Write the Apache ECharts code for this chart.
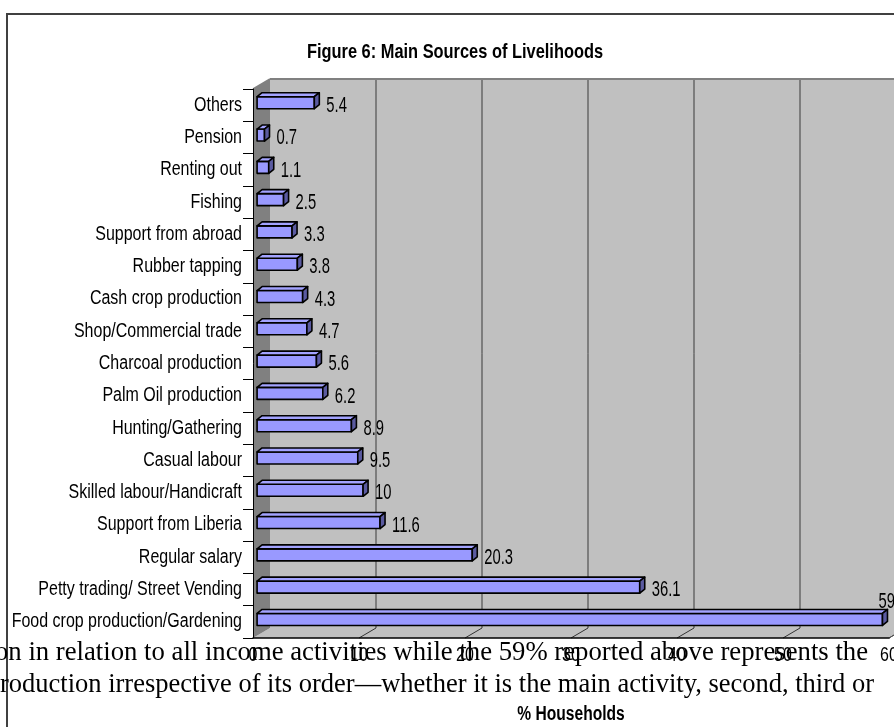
<!DOCTYPE html>
<html>
<head>
<meta charset="utf-8">
<script src="https://cdn.jsdelivr.net/npm/echarts@6/dist/echarts.min.js"></script>
<style>
  html, body { margin: 0; padding: 0; background: #fff; }
  #chart { width: 894px; height: 727px; }
</style>
</head>
<body>
<div id="chart"></div>
<script>
// Livelihood sources, listed bottom-to-top as the category axis stacks them.
const categories = [
  'Food crop production/Gardening',
  'Petty trading/ Street Vending',
  'Regular salary',
  'Support from Liberia',
  'Skilled labour/Handicraft',
  'Casual labour',
  'Hunting/Gathering',
  'Palm Oil production',
  'Charcoal production',
  'Shop/Commercial trade',
  'Cash crop production',
  'Rubber tapping',
  'Support from abroad',
  'Fishing',
  'Renting out',
  'Pension',
  'Others'
];
// % of households reporting each source
const households = [59, 36.1, 20.3, 11.6, 10, 9.5, 8.9, 6.2, 5.6, 4.7, 4.3, 3.8, 3.3, 2.5, 1.1, 0.7, 5.4];
// value axis ticks
const xTicks = [0, 10, 20, 30, 40, 50, 60];

const titleText = 'Figure 6: Main Sources of Livelihoods';
const axisTitle = '% Households';
// running report text printed across the lower part of the figure
const pageTextLines = [
  'on in relation to all income activities while the 59% reported above represents the',
  'roduction irrespective of its order\u2014whether it is the main activity, second, third or'
];

const SANS = '"Liberation Sans", Arial, sans-serif';
const SERIF = '"Liberation Serif", "Times New Roman", serif';
// horizontal squeeze that turns the sans face into a narrow one
const NARROW_X = 0.8;

// oblique projection of the plot depth (front plane -> back wall)
const DEPTH_X = 17, DEPTH_Y = -10;
// bars sit a quarter of the way into the depth, with their own small thickness
const BAR_POS = 0.24;
const BAR_DX = 5, BAR_DY = -4, BAR_H = 12;

const chart = echarts.init(document.getElementById('chart'), null, { renderer: 'canvas' });

function narrowText(x, y, text, font, align, vAlign, scaleY) {
  return {
    type: 'text', x: x, y: y, scaleX: NARROW_X, scaleY: scaleY || 1,
    style: { text: text, x: 0, y: 0, fill: '#000', font: font,
      align: align, verticalAlign: vAlign, textAlign: align, textVerticalAlign: vAlign }
  };
}

// walls, floor, gridlines and the axis texts of the 3-D frame
function renderFrame(params, api) {
  const cs = params.coordSys;
  const L = cs.x, T = cs.y, R = cs.x + cs.width, B = cs.y + cs.height;
  const dx = DEPTH_X, dy = DEPTH_Y;
  const children = [];
  // back wall
  children.push({ type: 'rect', shape: { x: L + dx, y: T + dy, width: R - L, height: B - T },
    style: { fill: '#C0C0C0' } });
  // floor
  children.push({ type: 'polygon', shape: { points: [[L, B], [R, B], [R + dx, B + dy], [L + dx, B + dy]] },
    style: { fill: '#C0C0C0' } });
  // side wall
  children.push({ type: 'polygon', shape: { points: [[L, T], [L + dx, T + dy], [L + dx, B + dy], [L, B]] },
    style: { fill: '#808080' } });
  // gridlines on the back wall
  xTicks.slice(1).forEach(function (v) {
    const x = api.coord([v, 0])[0] + dx;
    children.push({ type: 'line', shape: { x1: x, y1: T + dy, x2: x, y2: B + dy },
      style: { stroke: '#3a3a3a', lineWidth: 1 } });
  });
  // tick marks running across the floor
  xTicks.slice(1).forEach(function (v) {
    const x = api.coord([v, 0])[0];
    children.push({ type: 'line', shape: { x1: x, y1: B, x2: x + dx, y2: B + dy },
      style: { stroke: '#333', lineWidth: 1 } });
  });
  // wall edges
  children.push({ type: 'line', shape: { x1: L + dx, y1: T + dy, x2: R + dx, y2: T + dy },
    style: { stroke: '#808080', lineWidth: 2 } });
  children.push({ type: 'line', shape: { x1: L, y1: T, x2: L + dx, y2: T + dy },
    style: { stroke: '#808080', lineWidth: 1.5 } });
  children.push({ type: 'line', shape: { x1: R, y1: B, x2: R + dx, y2: B + dy },
    style: { stroke: '#555', lineWidth: 1 } });

  // category labels
  categories.forEach(function (name, i) {
    const y = api.coord([0, i])[1];
    children.push(narrowText(L - 11, y, name, '20px ' + SANS, 'right', 'middle'));
  });
  // value tick labels
  xTicks.forEach(function (v) {
    const x = api.coord([v, 0])[0];
    children.push(narrowText(x, B + 7, String(v), '20px ' + SANS, 'center', 'top'));
  });
  // value axis title
  children.push(narrowText((L + R) / 2, B + 77, axisTitle, 'bold 19.5px ' + SANS, 'center', 'middle'));
  return { type: 'group', children: children };
}

function renderBar(params, api) {
  const idx = api.value(0);
  const val = api.value(1);
  const p0 = api.coord([0, idx]);
  const p1 = api.coord([val, idx]);
  const ox = DEPTH_X * BAR_POS, oy = DEPTH_Y * BAR_POS;
  const x0 = p0[0] + ox, x1 = p1[0] + ox;
  const yc = p0[1] + oy;
  const y0 = yc - BAR_H / 2, y1 = yc + BAR_H / 2;
  const edge = { stroke: '#000', lineWidth: 1.6, lineJoin: 'round' };

  const front = { type: 'rect', shape: { x: x0, y: y0, width: x1 - x0, height: BAR_H },
    style: Object.assign({ fill: '#9999FF' }, edge) };
  const top = { type: 'polygon', shape: { points: [[x0, y0], [x0 + BAR_DX, y0 + BAR_DY], [x1 + BAR_DX, y0 + BAR_DY], [x1, y0]] },
    style: Object.assign({ fill: '#A3A3FF' }, edge) };
  const side = { type: 'polygon', shape: { points: [[x1, y0], [x1 + BAR_DX, y0 + BAR_DY], [x1 + BAR_DX, y1 + BAR_DY], [x1, y1]] },
    style: Object.assign({ fill: '#5A5AA0' }, edge) };

  // value label: right of the bar end, or above it when it would run off the page
  let lx = x1 + BAR_DX + 7, ly = yc + 3, va = 'middle';
  if (lx + 28 > api.getWidth()) {
    lx = x1 - 4; ly = y0 + BAR_DY + 4; va = 'bottom';
  }
  const label = narrowText(lx, ly, String(val), '18.5px ' + SANS, 'left', va, 1.22);

  return { type: 'group', children: [front, top, side, label] };
}

const option = {
  animation: false,
  backgroundColor: '#fff',
  grid: { left: 253, top: 89, width: 636, height: 549, containLabel: false, outerBoundsMode: 'none' },
  xAxis: {
    type: 'value', min: 0, max: 60, interval: 10, z: 5,
    axisLine: { show: true, lineStyle: { color: '#000', width: 1.5 } },
    axisTick: { show: false },
    splitLine: { show: false },
    axisLabel: { show: false }
  },
  yAxis: {
    type: 'category', data: categories, z: 5,
    axisLine: { show: true, lineStyle: { color: '#000', width: 1 } },
    axisTick: { show: true, length: 10, lineStyle: { color: '#000', width: 1 } },
    splitLine: { show: false },
    axisLabel: { show: false }
  },
  series: [
    { type: 'custom', name: 'frame', silent: true, renderItem: renderFrame,
      data: [[0, 0]], encode: { x: 0, y: 1 }, z: 1 },
    { type: 'custom', name: 'households', renderItem: renderBar,
      data: households.map(function (v, i) { return [i, v]; }),
      encode: { x: 1, y: 0 }, z: 2 }
  ],
  graphic: [
    { type: 'rect', z: 10, silent: true, shape: { x: 7, y: 14, width: 1000, height: 1000 },
      style: { fill: null, stroke: '#404040', lineWidth: 2 } },
    { type: 'text', z: 10, x: 455, y: 52, scaleX: NARROW_X,
      style: { text: titleText, font: 'bold 20.5px ' + SANS, fill: '#000',
        textAlign: 'center', textVerticalAlign: 'middle', align: 'center', verticalAlign: 'middle' } },
    { type: 'text', z: 11, x: -5, y: 653, scaleX: 1.008,
      style: { text: pageTextLines[0], font: '26.5px ' + SERIF, fill: '#000',
        textAlign: 'left', textVerticalAlign: 'middle', align: 'left', verticalAlign: 'middle' } },
    { type: 'text', z: 11, x: 0, y: 685,
      style: { text: pageTextLines[1], font: '26.5px ' + SERIF, fill: '#000',
        textAlign: 'left', textVerticalAlign: 'middle', align: 'left', verticalAlign: 'middle' } }
  ]
};

chart.setOption(option);
</script>
</body>
</html>
